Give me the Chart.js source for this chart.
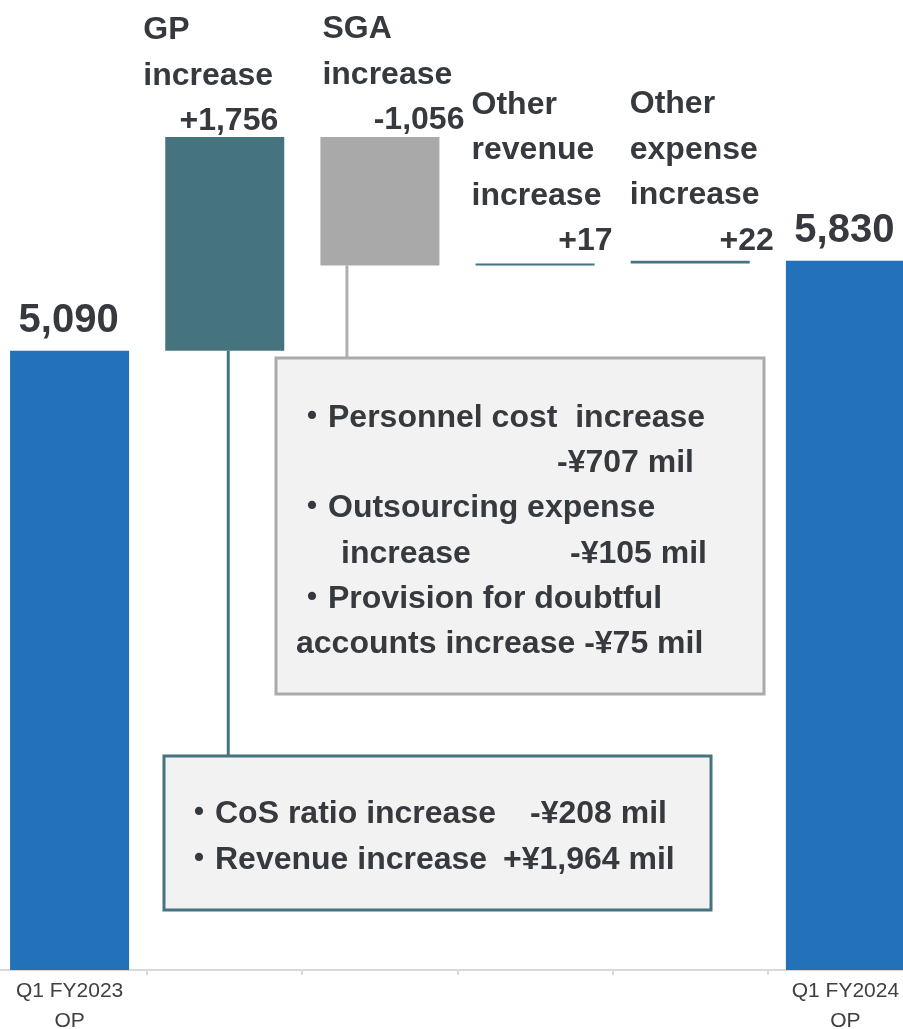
<!DOCTYPE html>
<html>
<head>
<meta charset="utf-8">
<script src="https://cdn.jsdelivr.net/npm/chart.js@4.4.1/dist/chart.umd.min.js"></script>
<style>
  html, body { margin: 0; padding: 0; background: #fff; overflow: hidden; }
  #wrap { position: absolute; left: -8px; top: 0; width: 931px; height: 1029px; }
</style>
</head>
<body>
<div id="wrap"><canvas id="bridge" width="931" height="1029"></canvas></div>
<script>
// ── Data ───────────────────────────────────────────────────────────────
const categories = [['Q1 FY2023', 'OP'], '', '', '', '', ['Q1 FY2024', 'OP']];
const startValue = 5090;
const stepValues = [1756, -1056, 17, 22];
const endValue = 5830;
const valueLabels = ['5,090', '+1,756', '-1,056', '+17', '+22', '5,830'];
const stepTitles = [
  ['GP', 'increase'],
  ['SGA', 'increase'],
  ['Other', 'revenue', 'increase'],
  ['Other', 'expense', 'increase'],
];
const sgaNotes = [
  ['・Personnel cost  increase'],
  ['-¥707 mil'],
  ['・Outsourcing expense'],
  ['increase', '-¥105 mil'],
  ['・Provision for doubtful'],
  ['accounts increase -¥75 mil'],
];
const gpNotes = [
  ['・CoS ratio increase', '-¥208 mil'],
  ['・Revenue increase', '+¥1,964 mil'],
];

// ── Colours / fonts ────────────────────────────────────────────────────
const BLUE = '#2371b8';
const TEAL = '#45747f';
const GREY = '#a9a9a9';
const TEXT = '#363a3e';
const FONT = '"Liberation Sans", Arial, "Noto Sans CJK JP", sans-serif';

// floating bar ranges built from the steps
const ranges = [[0, startValue]];
let running = startValue;
stepValues.forEach(v => {
  ranges.push([Math.min(running, running + v), Math.max(running, running + v)]);
  running += v;
});
ranges.push([0, endValue]);
const barColors = [BLUE, TEAL, GREY, TEAL, TEAL, BLUE];

function drawBox(ctx, x, y, w, h, stroke) {
  ctx.fillStyle = '#f2f2f2';
  ctx.fillRect(x, y, w, h);
  ctx.strokeStyle = stroke;
  ctx.lineWidth = 3;
  ctx.strokeRect(x, y, w, h);
}

const annotations = {
  id: 'annotations',
  afterDatasetsDraw(chart) {
    const ctx = chart.ctx;
    const bars = chart.getDatasetMeta(0).data;
    const off = 8; // canvas is shifted 8px left of the page
    ctx.save();

    // totals
    ctx.fillStyle = TEXT;
    ctx.font = 'bold 40px ' + FONT;
    ctx.textAlign = 'center';
    ctx.textBaseline = 'alphabetic';
    [0, 5].forEach(i => {
      const b = bars[i];
      ctx.fillText(valueLabels[i], b.x - 1, b.y - 19);
    });

    // step titles and values
    const place = [
      { dx: -22, vdx: -6, gap: 7 },
      { dx: 2, vdx: 25, gap: 8 },
      { dx: -4, vdx: 18, gap: 13 },
      { dx: -1, vdx: 24, gap: 11 },
    ];
    ctx.font = 'bold 32px ' + FONT;
    stepTitles.forEach((lines, k) => {
      const b = bars[k + 1];
      const p = place[k];
      const top = Math.min(b.y, b.base);
      const vy = top - p.gap;
      ctx.textAlign = 'right';
      ctx.fillText(valueLabels[k + 1], b.x + b.width / 2 + p.vdx, vy);
      ctx.textAlign = 'left';
      lines.forEach((t, i) => {
        ctx.fillText(t, b.x - b.width / 2 + p.dx, vy - 45.5 * (lines.length - i));
      });
    });

    // connectors
    const gp = bars[1], sga = bars[2];
    ctx.lineWidth = 3;
    ctx.strokeStyle = TEAL;
    ctx.beginPath();
    ctx.moveTo(gp.x + 3.5, Math.max(gp.y, gp.base));
    ctx.lineTo(gp.x + 3.5, 756);
    ctx.stroke();
    ctx.strokeStyle = '#b0b0b0';
    ctx.beginPath();
    ctx.moveTo(sga.x - 33, Math.max(sga.y, sga.base));
    ctx.lineTo(sga.x - 33, 358);
    ctx.stroke();

    // SGA breakdown box
    drawBox(ctx, 276 + off, 358, 488, 336, '#aaaaaa');
    const sgaX = [[296], [557], [296], [341, 570], [296], [296]];
    ctx.fillStyle = TEXT;
    ctx.font = 'bold 32px ' + FONT;
    ctx.textAlign = 'left';
    sgaNotes.forEach((segs, i) => {
      segs.forEach((s, j) => ctx.fillText(s, sgaX[i][j] + off, 427 + 45.2 * i));
    });

    // GP breakdown box
    drawBox(ctx, 164 + off, 756, 547, 154, TEAL);
    const gpX = [[183, 530], [183, 503]];
    ctx.fillStyle = TEXT;
    gpNotes.forEach((segs, i) => {
      segs.forEach((s, j) => ctx.fillText(s, gpX[i][j] + off, 823 + 46 * i));
    });

    ctx.restore();
  }
};

new Chart(document.getElementById('bridge'), {
  type: 'bar',
  data: {
    labels: categories,
    datasets: [{
      data: ranges,
      backgroundColor: barColors,
      borderWidth: 0,
      barPercentage: 0.767,
      categoryPercentage: 1,
    }],
  },
  options: {
    responsive: false,
    animation: false,
    layout: { padding: 0 },
    plugins: { legend: { display: false }, tooltip: { enabled: false } },
    scales: {
      x: {
        offset: true,
        grid: { offset: true, drawOnChartArea: false, drawTicks: true, tickLength: 5, color: '#d9d9d9', lineWidth: 2 },
        border: { color: '#d9d9d9', width: 2 },
        ticks: {
          color: '#404040',
          font: { family: FONT, size: 21, lineHeight: 1.4 },
          padding: 2,
          maxRotation: 0,
          autoSkip: false,
        },
        afterFit: (s) => { s.height = 59; },
      },
      y: { display: false, min: 0, max: 7972 },
    },
  },
  plugins: [annotations],
});
</script>
</body>
</html>
